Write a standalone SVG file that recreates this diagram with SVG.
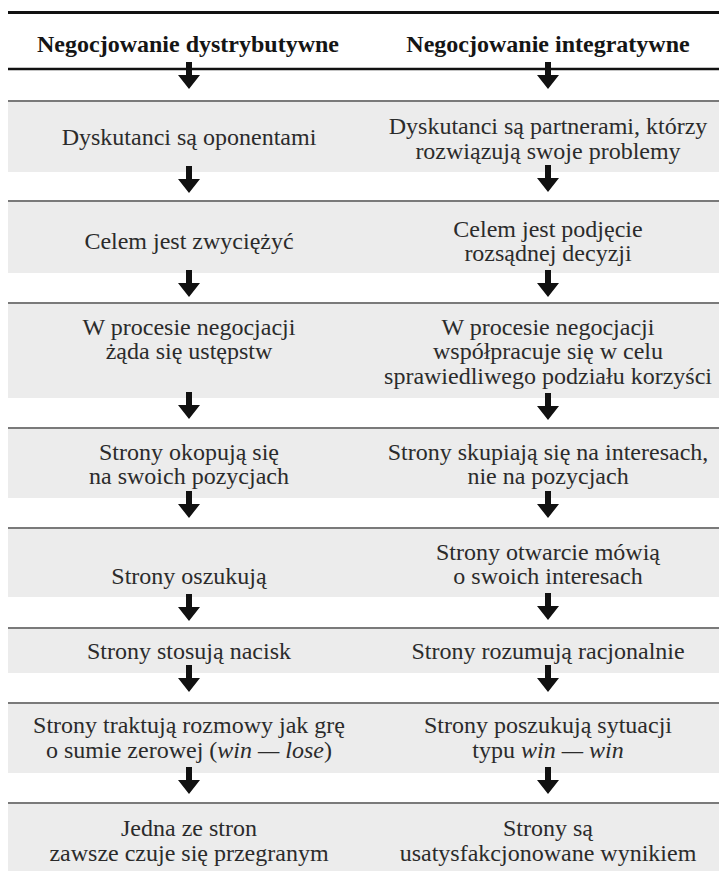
<svg xmlns="http://www.w3.org/2000/svg" xmlns:xlink="http://www.w3.org/1999/xlink" width="719" height="871" viewBox="0 0 719 871">
<style>
.band{fill:#ececec;}
.sep{stroke:#7a7a7a;stroke-width:2;fill:none;}
.rule{stroke:#111;fill:none;}
.t{font-family:"Liberation Serif","Times New Roman",serif;font-size:24px;fill:#2b2b2b;text-anchor:middle;}
.h{font-family:"Liberation Serif","Times New Roman",serif;font-size:24px;font-weight:bold;fill:#151515;text-anchor:middle;}
.i{font-style:italic;}
.arrow{fill:#111;}
</style>
<defs>
<path id="arr" d="M-3,0 L3,0 L3,13 L11,13 L0,27 L-11,13 L-3,13 Z"/>
</defs>
<rect width="719" height="871" fill="#ffffff"/>
<g id="header">
<line class="rule" x1="8" y1="12.5" x2="719" y2="12.5" stroke-width="3"/>
<line class="rule" x1="8" y1="69" x2="719" y2="69" stroke-width="2.5"/>
<g id="head-left"><text class="h" x="188" y="52">Negocjowanie dystrybutywne</text></g>
<g id="head-right"><text class="h" x="548" y="52">Negocjowanie integratywne</text></g>
</g>
<g id="row1-left"><rect class="band" x="8" y="100" width="360" height="72"/><line class="sep" x1="8" y1="101" x2="368" y2="101"/><text class="t" x="189" y="145">Dyskutanci są oponentami</text></g>
<g id="row1-right"><rect class="band" x="368" y="100" width="351" height="72"/><line class="sep" x1="368" y1="101" x2="719" y2="101"/><text class="t" x="548" y="134">Dyskutanci są partnerami, którzy</text><text class="t" x="548" y="159">rozwiązują swoje problemy</text></g>
<g id="row2-left"><rect class="band" x="8" y="200" width="360" height="73"/><line class="sep" x1="8" y1="201" x2="368" y2="201"/><text class="t" x="189" y="249">Celem jest zwyciężyć</text></g>
<g id="row2-right"><rect class="band" x="368" y="200" width="351" height="73"/><line class="sep" x1="368" y1="201" x2="719" y2="201"/><text class="t" x="548" y="237">Celem jest podjęcie</text><text class="t" x="548" y="261">rozsądnej decyzji</text></g>
<g id="row3-left"><rect class="band" x="8" y="302" width="360" height="96"/><line class="sep" x1="8" y1="303" x2="368" y2="303"/><text class="t" x="189" y="335">W procesie negocjacji</text><text class="t" x="189" y="359">żąda się ustępstw</text></g>
<g id="row3-right"><rect class="band" x="368" y="302" width="351" height="96"/><line class="sep" x1="368" y1="303" x2="719" y2="303"/><text class="t" x="548" y="335">W procesie negocjacji</text><text class="t" x="548" y="359">współpracuje się w celu</text><text class="t" x="548" y="384">sprawiedliwego podziału korzyści</text></g>
<g id="row4-left"><rect class="band" x="8" y="427" width="360" height="71"/><line class="sep" x1="8" y1="428" x2="368" y2="428"/><text class="t" x="189" y="460">Strony okopują się</text><text class="t" x="189" y="484">na swoich pozycjach</text></g>
<g id="row4-right"><rect class="band" x="368" y="427" width="351" height="71"/><line class="sep" x1="368" y1="428" x2="719" y2="428"/><text class="t" x="548" y="460">Strony skupiają się na interesach,</text><text class="t" x="548" y="484">nie na pozycjach</text></g>
<g id="row5-left"><rect class="band" x="8" y="527" width="360" height="70"/><line class="sep" x1="8" y1="528" x2="368" y2="528"/><text class="t" x="189" y="584">Strony oszukują</text></g>
<g id="row5-right"><rect class="band" x="368" y="527" width="351" height="70"/><line class="sep" x1="368" y1="528" x2="719" y2="528"/><text class="t" x="548" y="560">Strony otwarcie mówią</text><text class="t" x="548" y="584">o swoich interesach</text></g>
<g id="row6-left"><rect class="band" x="8" y="627" width="360" height="46"/><line class="sep" x1="8" y1="628" x2="368" y2="628"/><text class="t" x="189" y="659">Strony stosują nacisk</text></g>
<g id="row6-right"><rect class="band" x="368" y="627" width="351" height="46"/><line class="sep" x1="368" y1="628" x2="719" y2="628"/><text class="t" x="548" y="659">Strony rozumują racjonalnie</text></g>
<g id="row7-left"><rect class="band" x="8" y="702" width="360" height="71"/><line class="sep" x1="8" y1="703" x2="368" y2="703"/><text class="t" x="189" y="733">Strony traktują rozmowy jak grę</text><text class="t" x="189" y="758">o sumie zerowej (<tspan class="i">win — lose</tspan>)</text></g>
<g id="row7-right"><rect class="band" x="368" y="702" width="351" height="71"/><line class="sep" x1="368" y1="703" x2="719" y2="703"/><text class="t" x="548" y="733">Strony poszukują sytuacji</text><text class="t" x="548" y="758">typu <tspan class="i">win — win</tspan></text></g>
<g id="row8-left"><rect class="band" x="8" y="802" width="360" height="69"/><line class="sep" x1="8" y1="803" x2="368" y2="803"/><text class="t" x="189" y="836">Jedna ze stron</text><text class="t" x="189" y="861">zawsze czuje się przegranym</text></g>
<g id="row8-right"><rect class="band" x="368" y="802" width="351" height="69"/><line class="sep" x1="368" y1="803" x2="719" y2="803"/><text class="t" x="548" y="836">Strony są</text><text class="t" x="548" y="861">usatysfakcjonowane wynikiem</text></g>
<g id="connectors" class="arrow">
<use xlink:href="#arr" x="189" y="62"/><use xlink:href="#arr" x="548" y="62"/>
<use xlink:href="#arr" x="189" y="166"/><use xlink:href="#arr" x="548" y="165"/>
<use xlink:href="#arr" x="189" y="270"/><use xlink:href="#arr" x="548" y="270"/>
<use xlink:href="#arr" x="189" y="392"/><use xlink:href="#arr" x="548" y="393"/>
<use xlink:href="#arr" x="189" y="491"/><use xlink:href="#arr" x="548" y="491"/>
<use xlink:href="#arr" x="189" y="594"/><use xlink:href="#arr" x="548" y="593"/>
<use xlink:href="#arr" x="189" y="665"/><use xlink:href="#arr" x="548" y="665"/>
<use xlink:href="#arr" x="189" y="767"/><use xlink:href="#arr" x="548" y="767"/>
</g>
</svg>
